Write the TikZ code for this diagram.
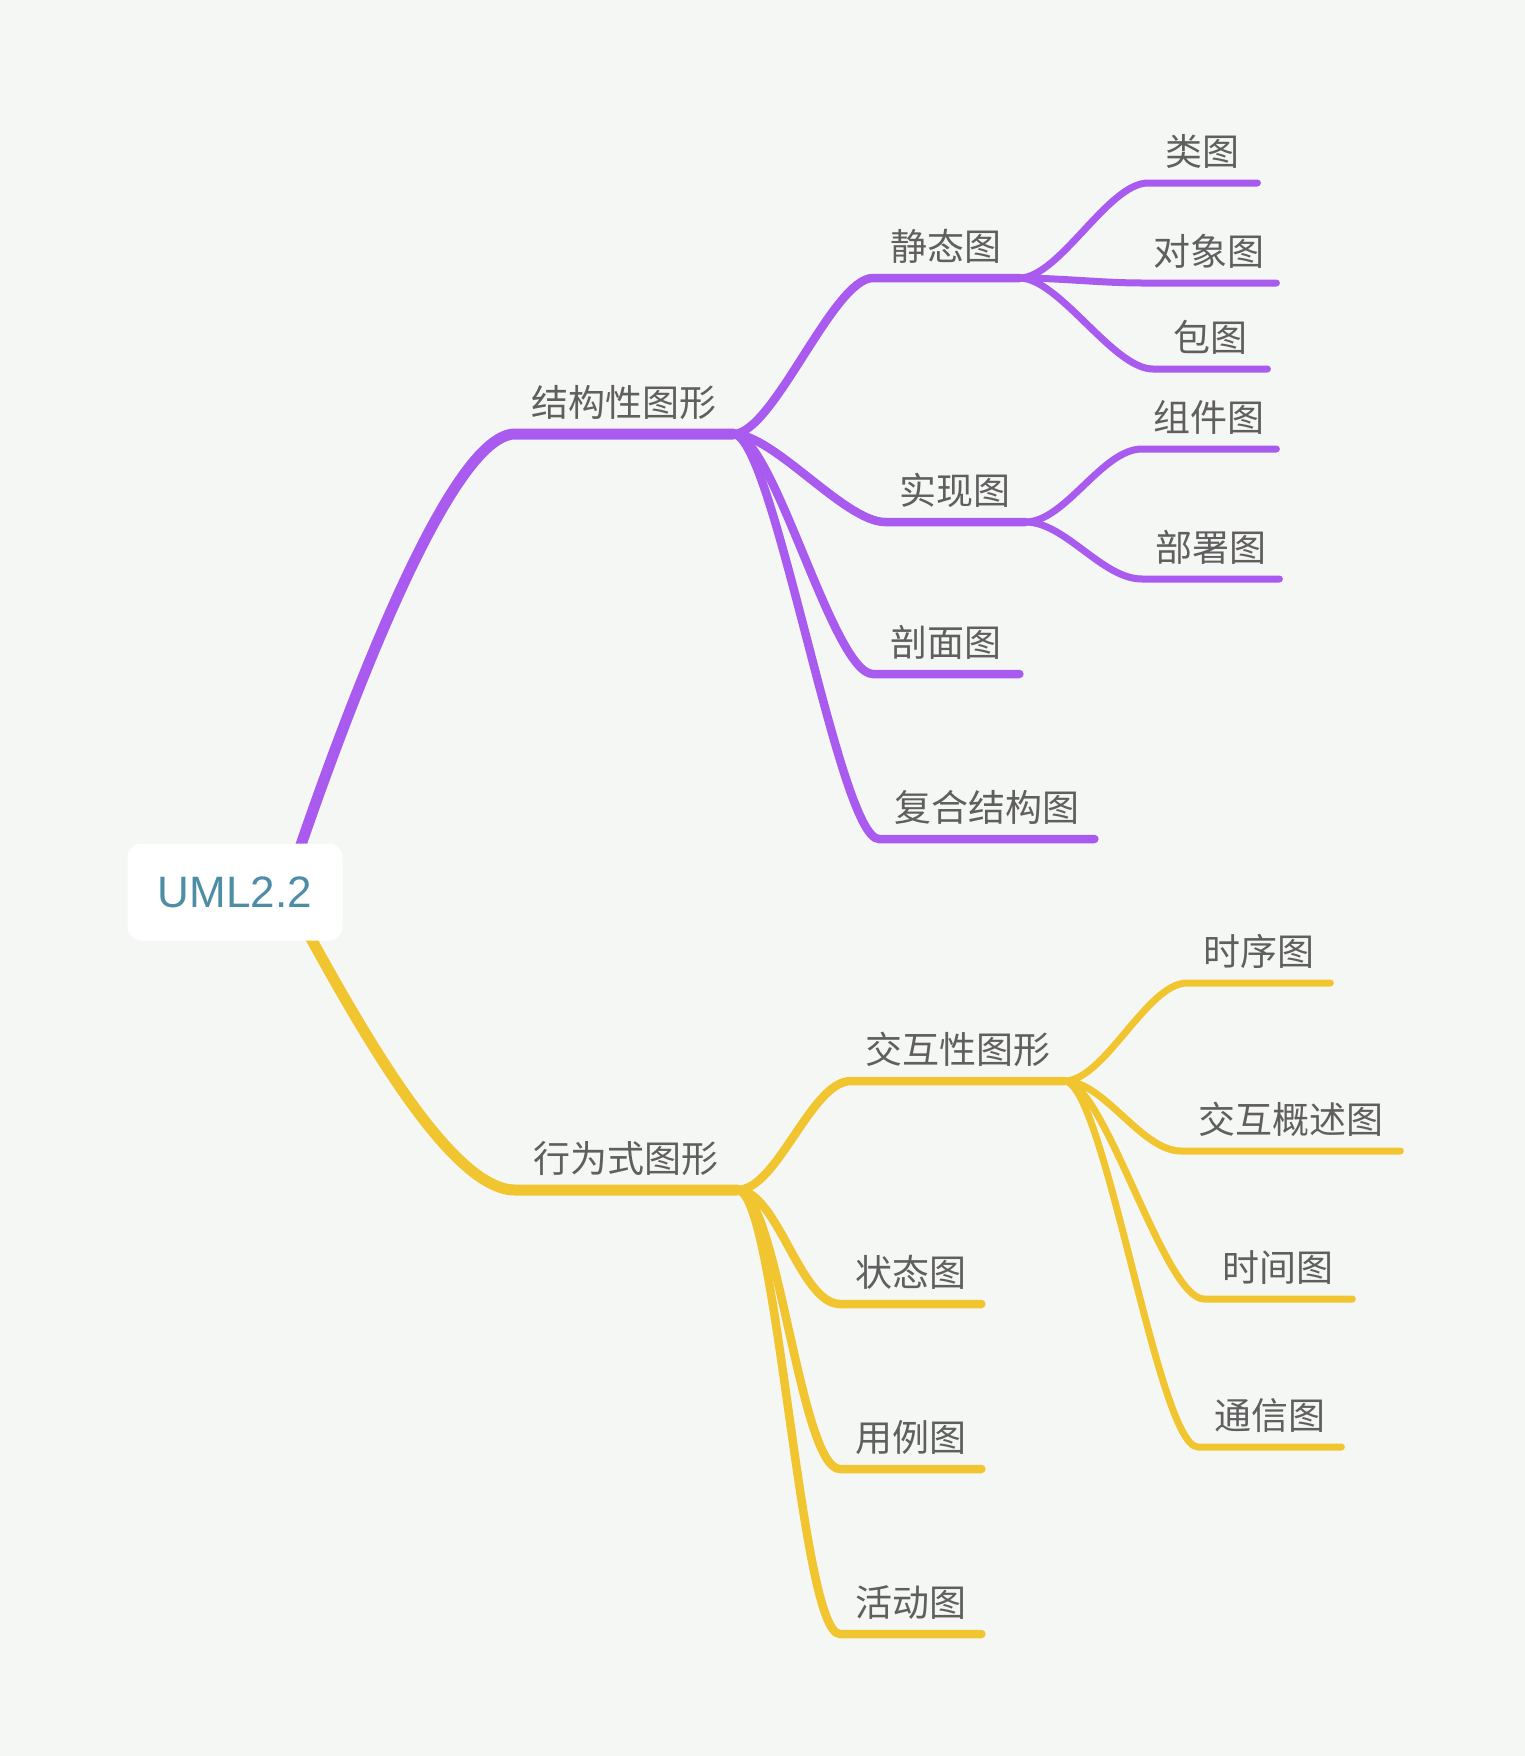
\documentclass[tikz,border=0pt]{standalone}
\usepackage{fontspec}
\newfontfamily\cjkfont{Noto Sans CJK SC}
\newfontfamily\rootfont{Liberation Sans}
\definecolor{bgc}{HTML}{F5F7F4}
\definecolor{purp}{HTML}{A95BEF}
\definecolor{yell}{HTML}{F1C530}
\definecolor{txtc}{HTML}{5F5F5F}
\definecolor{umlblue}{HTML}{4E8DA6}
\tikzset{
  topic/.style={anchor=south west, inner xsep=0pt, inner ysep=17pt, text depth=0pt,
    text=txtc, font=\cjkfont\fontsize{37}{42}\selectfont},
  trunk/.style={line width=11pt, line cap=round},
  lvtwo/.style={line width=8.5pt, line cap=round},
  lvthree/.style={line width=7pt, line cap=round},
}

\begin{document}
\begin{tikzpicture}[x=1pt,y=-1pt]
  \fill[bgc] (0,0) rectangle (1525,1756);
  \coordinate (rootc) at (235,892);

  % structure side
  \node[topic, minimum width=218pt] (jg) at (515,434) {结构性图形};
  \node[topic, minimum width=146pt] (jt) at (873,278) {静态图};
  \node[topic, minimum width=109pt] (lt) at (1148,183) {类图};
  \node[topic, minimum width=134pt] (dx) at (1142,283) {对象图};
  \node[topic, minimum width=114pt] (bt) at (1153,369) {包图};
  \node[topic, minimum width=140pt] (sx) at (885,522) {实现图};
  \node[topic, minimum width=134pt] (zj) at (1142,449) {组件图};
  \node[topic, minimum width=137pt] (bs) at (1142,579) {部署图};
  \node[topic, minimum width=146pt] (pm) at (873,674) {剖面图};
  \node[topic, minimum width=215pt] (fh) at (879,839) {复合结构图};

  % behaviour side
  \node[topic, minimum width=222pt] (xw) at (515,1190) {行为式图形};
  \node[topic, minimum width=213pt] (jh) at (851,1081) {交互性图形};
  \node[topic, minimum width=143pt] (sq) at (1187,983) {时序图};
  \node[topic, minimum width=219pt] (gs) at (1181,1151) {交互概述图};
  \node[topic, minimum width=148pt] (sj) at (1204,1299) {时间图};
  \node[topic, minimum width=143pt] (tx) at (1198,1447) {通信图};
  \node[topic, minimum width=141pt] (zt) at (840,1304) {状态图};
  \node[topic, minimum width=141pt] (yl) at (840,1469) {用例图};
  \node[topic, minimum width=141pt] (hd) at (840,1634) {活动图};

  \draw[trunk,purp] ([xshift=50pt]rootc) .. controls +(30,-90) and +(-75,0) .. (jg.south west) -- (jg.south east);
  \draw[trunk,yell] ([xshift=50pt]rootc) .. controls +(45,78) and +(-75,0) .. (xw.south west) -- (xw.south east);

  \foreach \c in {jt,sx,pm,fh}
    \draw[lvtwo,purp] (jg.south east) .. controls +(40,0) and +(-40,0) .. (\c.south west) -- (\c.south east);
  \foreach \c in {lt,dx,bt}
    \draw[lvthree,purp] (jt.south east) .. controls +(40,0) and +(-40,0) .. (\c.south west) -- (\c.south east);
  \foreach \c in {zj,bs}
    \draw[lvthree,purp] (sx.south east) .. controls +(40,0) and +(-40,0) .. (\c.south west) -- (\c.south east);

  \foreach \c in {jh,zt,yl,hd}
    \draw[lvtwo,yell] (xw.south east) .. controls +(40,0) and +(-40,0) .. (\c.south west) -- (\c.south east);
  \foreach \c in {sq,gs,sj,tx}
    \draw[lvthree,yell] (jh.south east) .. controls +(40,0) and +(-40,0) .. (\c.south west) -- (\c.south east);

  \node[fill=white, rounded corners=14pt, minimum width=215pt, minimum height=97pt,
    text=umlblue, font=\rootfont\fontsize{44}{50}\selectfont] (root) at (rootc) {UML2.2};
\end{tikzpicture}
\end{document}
